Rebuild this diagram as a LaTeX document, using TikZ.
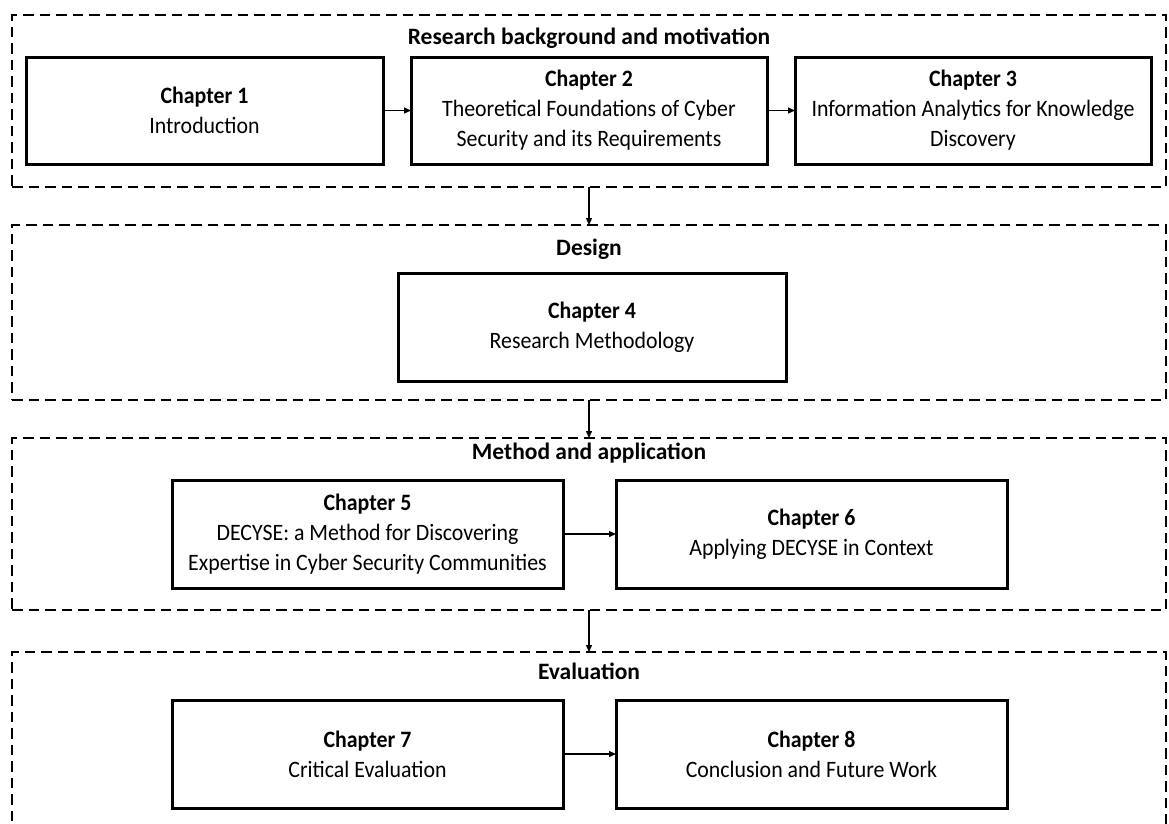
\documentclass[tikz,border=0pt]{standalone}
\usepackage{fontspec}
\setmainfont{Carlito}[FakeStretch=0.93]
\newfontfamily\phasefont{Carlito}
\usetikzlibrary{arrows.meta}
\begin{document}
\begin{tikzpicture}[x=1pt,y=-1pt,
  group/.style={draw, line width=2.8pt, dash pattern=on 10.5pt off 6pt,
    minimum width=1154pt, inner sep=0pt, outer sep=0pt},
  chapbox/.style={draw, line width=3pt, align=center, inner sep=0pt,
    outer sep=0pt, minimum height=107pt,
    font=\fontsize{23.5}{30}\selectfont},
  grouptitle/.style={font=\phasefont\fontsize{23.5}{26}\selectfont\bfseries, inner sep=0pt},
  flow/.style={-{Triangle[length=7pt,width=6pt]}, line width=1.2pt},
]
\clip (0,0) rectangle (1169,823);
\fill[white] (0,0) rectangle (1169,823);

% dashed phase frames
\node[group, minimum height=172pt] (g1) at (589,101) {};
\node[group, minimum height=175pt] (g2) at (589,312.5) {};
\node[group, minimum height=172pt] (g3) at (589,524) {};
\node[group, minimum height=190pt] (g4) at (589,747) {};

% phase titles
\node[grouptitle] (t1) at (589,38) {Research background and motivation};
\node[grouptitle] (t2) at (589,249) {Design};
\node[grouptitle] (t3) at (589,453) {Method and application};
\node[grouptitle] (t4) at (589,671) {Evaluation};

% chapters
\node[chapbox, minimum width=357pt] (c1) at (204.5,110.5)
  {{\bfseries Chapter 1}\\Introduction};
\node[chapbox, minimum width=356pt] (c2) at (589,110.5)
  {{\bfseries Chapter 2}\\Theoretical Foundations of Cyber\\Security and its Requirements};
\node[chapbox, minimum width=356pt] (c3) at (973,110.5)
  {{\bfseries Chapter 3}\\Information Analytics for Knowledge\\Discovery};
\node[chapbox, minimum width=388pt, minimum height=108pt] (c4) at (592,327)
  {{\bfseries Chapter 4}\\Research Methodology};
\node[chapbox, minimum width=391pt, minimum height=108pt] (c5) at (367.5,534)
  {{\bfseries Chapter 5}\\DECYSE: a Method for Discovering\\Expertise in Cyber Security Communities};
\node[chapbox, minimum width=391pt, minimum height=108pt] (c6) at (811.5,534)
  {{\bfseries Chapter 6}\\Applying DECYSE in Context};
\node[chapbox, minimum width=391pt, minimum height=108pt] (c7) at (367.5,754)
  {{\bfseries Chapter 7}\\Critical Evaluation};
\node[chapbox, minimum width=391pt, minimum height=108pt] (c8) at (811.5,754)
  {{\bfseries Chapter 8}\\Conclusion and Future Work};

% connectors
\draw[flow] (c1.east) -- (c2.west);
\draw[flow] (c2.east) -- (c3.west);
\draw[flow] (c5.east) -- (c6.west);
\draw[flow] (c7.east) -- (c8.west);
\draw[flow] (g1.south) -- (g2.north);
\draw[flow] (g2.south) -- (g3.north);
\draw[flow] (g3.south) -- (g4.north);
\end{tikzpicture}
\end{document}
